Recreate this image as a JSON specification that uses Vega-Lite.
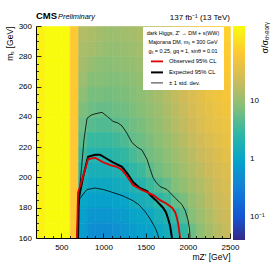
{
"$schema":"https://vega.github.io/schema/vega-lite/v6.json",
"width":194,"height":212,
"autosize":{"type":"none"},
"padding":{"left":36,"top":26,"right":44,"bottom":28},
"background":"white",
"config":{"font":"Liberation Sans","view":{"stroke":null},"axis":{"grid":false}},
"datasets":{
"cells":[
{"mz":250,"ms":295,"r":162},{"mz":250,"ms":285,"r":162},{"mz":250,"ms":275,"r":162},{"mz":250,"ms":265,"r":162},{"mz":250,"ms":255,"r":162},{"mz":250,"ms":245,"r":162},{"mz":250,"ms":235,"r":162},{"mz":250,"ms":225,"r":162},{"mz":250,"ms":215,"r":162},{"mz":250,"ms":205,"r":162},{"mz":250,"ms":195,"r":162},{"mz":250,"ms":185,"r":162},{"mz":250,"ms":175,"r":162},{"mz":250,"ms":165,"r":162},
{"mz":350,"ms":295,"r":200},{"mz":350,"ms":285,"r":200},{"mz":350,"ms":275,"r":200},{"mz":350,"ms":265,"r":200},{"mz":350,"ms":255,"r":200},{"mz":350,"ms":245,"r":200},{"mz":350,"ms":235,"r":200},{"mz":350,"ms":225,"r":200},{"mz":350,"ms":215,"r":200},{"mz":350,"ms":205,"r":200},{"mz":350,"ms":195,"r":200},{"mz":350,"ms":185,"r":200},{"mz":350,"ms":175,"r":200},{"mz":350,"ms":165,"r":200},
{"mz":450,"ms":295,"r":200},{"mz":450,"ms":285,"r":200},{"mz":450,"ms":275,"r":200},{"mz":450,"ms":265,"r":200},{"mz":450,"ms":255,"r":200},{"mz":450,"ms":245,"r":200},{"mz":450,"ms":235,"r":200},{"mz":450,"ms":225,"r":200},{"mz":450,"ms":215,"r":200},{"mz":450,"ms":205,"r":200},{"mz":450,"ms":195,"r":200},{"mz":450,"ms":185,"r":200},{"mz":450,"ms":175,"r":200},{"mz":450,"ms":165,"r":200},
{"mz":550,"ms":295,"r":200},{"mz":550,"ms":285,"r":200},{"mz":550,"ms":275,"r":200},{"mz":550,"ms":265,"r":200},{"mz":550,"ms":255,"r":200},{"mz":550,"ms":245,"r":200},{"mz":550,"ms":235,"r":200},{"mz":550,"ms":225,"r":200},{"mz":550,"ms":215,"r":200},{"mz":550,"ms":205,"r":200},{"mz":550,"ms":195,"r":200},{"mz":550,"ms":185,"r":200},{"mz":550,"ms":175,"r":200},{"mz":550,"ms":165,"r":200},
{"mz":650,"ms":295,"r":69},{"mz":650,"ms":285,"r":69},{"mz":650,"ms":275,"r":69},{"mz":650,"ms":265,"r":69},{"mz":650,"ms":255,"r":69},{"mz":650,"ms":245,"r":69},{"mz":650,"ms":235,"r":69},{"mz":650,"ms":225,"r":69},{"mz":650,"ms":215,"r":69},{"mz":650,"ms":205,"r":69},{"mz":650,"ms":195,"r":69},{"mz":650,"ms":185,"r":69},{"mz":650,"ms":175,"r":69},{"mz":650,"ms":165,"r":69},
{"mz":750,"ms":295,"r":15.5},{"mz":750,"ms":285,"r":14.0},{"mz":750,"ms":275,"r":12.6},{"mz":750,"ms":265,"r":11.3},{"mz":750,"ms":255,"r":9.12},{"mz":750,"ms":245,"r":7.37},{"mz":750,"ms":235,"r":5.96},{"mz":750,"ms":225,"r":4.82},{"mz":750,"ms":215,"r":3.50},{"mz":750,"ms":205,"r":2.54},{"mz":750,"ms":195,"r":1.66},{"mz":750,"ms":185,"r":1.08},{"mz":750,"ms":175,"r":0.877},{"mz":750,"ms":165,"r":0.788},
{"mz":850,"ms":295,"r":14.0},{"mz":850,"ms":285,"r":12.6},{"mz":850,"ms":275,"r":10.1},{"mz":850,"ms":265,"r":8.20},{"mz":850,"ms":255,"r":6.99},{"mz":850,"ms":245,"r":5.96},{"mz":850,"ms":235,"r":4.57},{"mz":850,"ms":225,"r":3.15},{"mz":850,"ms":215,"r":2.29},{"mz":850,"ms":205,"r":1.66},{"mz":850,"ms":195,"r":1.21},{"mz":850,"ms":185,"r":0.877},{"mz":850,"ms":175,"r":0.637},{"mz":850,"ms":165,"r":0.515},
{"mz":950,"ms":295,"r":12.6},{"mz":950,"ms":285,"r":11.3},{"mz":950,"ms":275,"r":9.12},{"mz":950,"ms":265,"r":8.20},{"mz":950,"ms":255,"r":6.99},{"mz":950,"ms":245,"r":5.65},{"mz":950,"ms":235,"r":4.33},{"mz":950,"ms":225,"r":3.15},{"mz":950,"ms":215,"r":2.29},{"mz":950,"ms":205,"r":1.66},{"mz":950,"ms":195,"r":1.21},{"mz":950,"ms":185,"r":0.877},{"mz":950,"ms":175,"r":0.637},{"mz":950,"ms":165,"r":0.463},
{"mz":1050,"ms":295,"r":11.3},{"mz":1050,"ms":285,"r":10.1},{"mz":1050,"ms":275,"r":8.65},{"mz":1050,"ms":265,"r":7.78},{"mz":1050,"ms":255,"r":6.63},{"mz":1050,"ms":245,"r":5.65},{"mz":1050,"ms":235,"r":4.33},{"mz":1050,"ms":225,"r":3.15},{"mz":1050,"ms":215,"r":2.29},{"mz":1050,"ms":205,"r":1.66},{"mz":1050,"ms":195,"r":1.21},{"mz":1050,"ms":185,"r":0.877},{"mz":1050,"ms":175,"r":0.637},{"mz":1050,"ms":165,"r":0.489},
{"mz":1150,"ms":295,"r":11.3},{"mz":1150,"ms":285,"r":10.1},{"mz":1150,"ms":275,"r":9.12},{"mz":1150,"ms":265,"r":7.78},{"mz":1150,"ms":255,"r":6.99},{"mz":1150,"ms":245,"r":5.96},{"mz":1150,"ms":235,"r":4.82},{"mz":1150,"ms":225,"r":3.50},{"mz":1150,"ms":215,"r":2.54},{"mz":1150,"ms":205,"r":1.85},{"mz":1150,"ms":195,"r":1.34},{"mz":1150,"ms":185,"r":0.975},{"mz":1150,"ms":175,"r":0.708},{"mz":1150,"ms":165,"r":0.543},
{"mz":1250,"ms":295,"r":11.9},{"mz":1250,"ms":285,"r":10.7},{"mz":1250,"ms":275,"r":9.62},{"mz":1250,"ms":265,"r":8.20},{"mz":1250,"ms":255,"r":7.37},{"mz":1250,"ms":245,"r":6.29},{"mz":1250,"ms":235,"r":5.36},{"mz":1250,"ms":225,"r":4.10},{"mz":1250,"ms":215,"r":2.98},{"mz":1250,"ms":205,"r":2.17},{"mz":1250,"ms":195,"r":1.49},{"mz":1250,"ms":185,"r":1.03},{"mz":1250,"ms":175,"r":0.788},{"mz":1250,"ms":165,"r":0.637},
{"mz":1350,"ms":295,"r":12.6},{"mz":1350,"ms":285,"r":11.3},{"mz":1350,"ms":275,"r":10.1},{"mz":1350,"ms":265,"r":9.12},{"mz":1350,"ms":255,"r":8.20},{"mz":1350,"ms":245,"r":7.37},{"mz":1350,"ms":235,"r":6.29},{"mz":1350,"ms":225,"r":5.36},{"mz":1350,"ms":215,"r":3.89},{"mz":1350,"ms":205,"r":2.83},{"mz":1350,"ms":195,"r":2.06},{"mz":1350,"ms":185,"r":1.42},{"mz":1350,"ms":175,"r":1.03},{"mz":1350,"ms":165,"r":0.788},
{"mz":1450,"ms":295,"r":14.0},{"mz":1450,"ms":285,"r":12.6},{"mz":1450,"ms":275,"r":11.3},{"mz":1450,"ms":265,"r":10.1},{"mz":1450,"ms":255,"r":9.12},{"mz":1450,"ms":245,"r":8.20},{"mz":1450,"ms":235,"r":6.99},{"mz":1450,"ms":225,"r":5.96},{"mz":1450,"ms":215,"r":4.82},{"mz":1450,"ms":205,"r":3.32},{"mz":1450,"ms":195,"r":2.29},{"mz":1450,"ms":185,"r":1.57},{"mz":1450,"ms":175,"r":1.08},{"mz":1450,"ms":165,"r":0.877},
{"mz":1550,"ms":295,"r":16.4},{"mz":1550,"ms":285,"r":14.7},{"mz":1550,"ms":275,"r":13.2},{"mz":1550,"ms":265,"r":11.9},{"mz":1550,"ms":255,"r":10.7},{"mz":1550,"ms":245,"r":9.62},{"mz":1550,"ms":235,"r":8.20},{"mz":1550,"ms":225,"r":7.37},{"mz":1550,"ms":215,"r":6.29},{"mz":1550,"ms":205,"r":4.82},{"mz":1550,"ms":195,"r":3.15},{"mz":1550,"ms":185,"r":1.85},{"mz":1550,"ms":175,"r":1.21},{"mz":1550,"ms":165,"r":0.975},
{"mz":1650,"ms":295,"r":19.2},{"mz":1650,"ms":285,"r":17.3},{"mz":1650,"ms":275,"r":15.5},{"mz":1650,"ms":265,"r":14.0},{"mz":1650,"ms":255,"r":12.6},{"mz":1650,"ms":245,"r":11.3},{"mz":1650,"ms":235,"r":10.1},{"mz":1650,"ms":225,"r":8.65},{"mz":1650,"ms":215,"r":7.37},{"mz":1650,"ms":205,"r":6.29},{"mz":1650,"ms":195,"r":4.33},{"mz":1650,"ms":185,"r":2.54},{"mz":1650,"ms":175,"r":1.66},{"mz":1650,"ms":165,"r":1.21},
{"mz":1750,"ms":295,"r":23.8},{"mz":1750,"ms":285,"r":21.4},{"mz":1750,"ms":275,"r":19.2},{"mz":1750,"ms":265,"r":17.3},{"mz":1750,"ms":255,"r":15.5},{"mz":1750,"ms":245,"r":14.0},{"mz":1750,"ms":235,"r":12.6},{"mz":1750,"ms":225,"r":10.7},{"mz":1750,"ms":215,"r":9.12},{"mz":1750,"ms":205,"r":7.78},{"mz":1750,"ms":195,"r":5.65},{"mz":1750,"ms":185,"r":3.32},{"mz":1750,"ms":175,"r":2.06},{"mz":1750,"ms":165,"r":1.49},
{"mz":1850,"ms":295,"r":29.4},{"mz":1850,"ms":285,"r":26.5},{"mz":1850,"ms":275,"r":23.8},{"mz":1850,"ms":265,"r":21.4},{"mz":1850,"ms":255,"r":19.2},{"mz":1850,"ms":245,"r":17.3},{"mz":1850,"ms":235,"r":15.5},{"mz":1850,"ms":225,"r":13.2},{"mz":1850,"ms":215,"r":11.3},{"mz":1850,"ms":205,"r":9.62},{"mz":1850,"ms":195,"r":7.78},{"mz":1850,"ms":185,"r":5.36},{"mz":1850,"ms":175,"r":3.15},{"mz":1850,"ms":165,"r":2.06},
{"mz":1950,"ms":295,"r":36.4},{"mz":1950,"ms":285,"r":32.7},{"mz":1950,"ms":275,"r":29.4},{"mz":1950,"ms":265,"r":26.5},{"mz":1950,"ms":255,"r":23.8},{"mz":1950,"ms":245,"r":21.4},{"mz":1950,"ms":235,"r":19.2},{"mz":1950,"ms":225,"r":16.4},{"mz":1950,"ms":215,"r":14.0},{"mz":1950,"ms":205,"r":11.9},{"mz":1950,"ms":195,"r":9.62},{"mz":1950,"ms":185,"r":6.99},{"mz":1950,"ms":175,"r":4.57},{"mz":1950,"ms":165,"r":2.83},
{"mz":2050,"ms":295,"r":45.1},{"mz":2050,"ms":285,"r":40.5},{"mz":2050,"ms":275,"r":36.4},{"mz":2050,"ms":265,"r":32.7},{"mz":2050,"ms":255,"r":29.4},{"mz":2050,"ms":245,"r":26.5},{"mz":2050,"ms":235,"r":23.8},{"mz":2050,"ms":225,"r":20.3},{"mz":2050,"ms":215,"r":17.3},{"mz":2050,"ms":205,"r":14.7},{"mz":2050,"ms":195,"r":12.6},{"mz":2050,"ms":185,"r":10.1},{"mz":2050,"ms":175,"r":8.20},{"mz":2050,"ms":165,"r":5.96},
{"mz":2150,"ms":295,"r":55.7},{"mz":2150,"ms":285,"r":50.1},{"mz":2150,"ms":275,"r":45.1},{"mz":2150,"ms":265,"r":40.5},{"mz":2150,"ms":255,"r":36.4},{"mz":2150,"ms":245,"r":32.7},{"mz":2150,"ms":235,"r":29.4},{"mz":2150,"ms":225,"r":25.1},{"mz":2150,"ms":215,"r":21.4},{"mz":2150,"ms":205,"r":18.2},{"mz":2150,"ms":195,"r":15.5},{"mz":2150,"ms":185,"r":13.2},{"mz":2150,"ms":175,"r":11.3},{"mz":2150,"ms":165,"r":9.12},
{"mz":2250,"ms":295,"r":65.4},{"mz":2250,"ms":285,"r":58.8},{"mz":2250,"ms":275,"r":52.8},{"mz":2250,"ms":265,"r":47.5},{"mz":2250,"ms":255,"r":42.7},{"mz":2250,"ms":245,"r":38.4},{"mz":2250,"ms":235,"r":34.5},{"mz":2250,"ms":225,"r":29.4},{"mz":2250,"ms":215,"r":25.1},{"mz":2250,"ms":205,"r":22.5},{"mz":2250,"ms":195,"r":19.2},{"mz":2250,"ms":185,"r":17.3},{"mz":2250,"ms":175,"r":14.7},{"mz":2250,"ms":165,"r":12.6},
{"mz":2350,"ms":295,"r":72.7},{"mz":2350,"ms":285,"r":65.4},{"mz":2350,"ms":275,"r":62.0},{"mz":2350,"ms":265,"r":55.7},{"mz":2350,"ms":255,"r":50.1},{"mz":2350,"ms":245,"r":45.1},{"mz":2350,"ms":235,"r":40.5},{"mz":2350,"ms":225,"r":34.5},{"mz":2350,"ms":215,"r":31.0},{"mz":2350,"ms":205,"r":26.5},{"mz":2350,"ms":195,"r":23.8},{"mz":2350,"ms":185,"r":21.4},{"mz":2350,"ms":175,"r":19.2},{"mz":2350,"ms":165,"r":16.4},
{"mz":2450,"ms":295,"r":80.9},{"mz":2450,"ms":285,"r":72.7},{"mz":2450,"ms":275,"r":69.0},{"mz":2450,"ms":265,"r":62.0},{"mz":2450,"ms":255,"r":55.7},{"mz":2450,"ms":245,"r":50.1},{"mz":2450,"ms":235,"r":45.1},{"mz":2450,"ms":225,"r":40.5},{"mz":2450,"ms":215,"r":36.4},{"mz":2450,"ms":205,"r":31.0},{"mz":2450,"ms":195,"r":27.9},{"mz":2450,"ms":185,"r":25.1},{"mz":2450,"ms":175,"r":22.5},{"mz":2450,"ms":165,"r":20.3}
],
"curves":[
{"curve":"m1","kind":"± 1 std. dev.","i":0,"mz":686,"ms":160},{"curve":"m1","kind":"± 1 std. dev.","i":1,"mz":698,"ms":181},{"curve":"m1","kind":"± 1 std. dev.","i":2,"mz":720,"ms":186},{"curve":"m1","kind":"± 1 std. dev.","i":3,"mz":745,"ms":188},{"curve":"m1","kind":"± 1 std. dev.","i":4,"mz":805,"ms":192},{"curve":"m1","kind":"± 1 std. dev.","i":5,"mz":900,"ms":193},{"curve":"m1","kind":"± 1 std. dev.","i":6,"mz":1000,"ms":192},{"curve":"m1","kind":"± 1 std. dev.","i":7,"mz":1113,"ms":190},{"curve":"m1","kind":"± 1 std. dev.","i":8,"mz":1220,"ms":188},{"curve":"m1","kind":"± 1 std. dev.","i":9,"mz":1338,"ms":185},{"curve":"m1","kind":"± 1 std. dev.","i":10,"mz":1420,"ms":182},{"curve":"m1","kind":"± 1 std. dev.","i":11,"mz":1500,"ms":177},{"curve":"m1","kind":"± 1 std. dev.","i":12,"mz":1560,"ms":172},{"curve":"m1","kind":"± 1 std. dev.","i":13,"mz":1610,"ms":167},{"curve":"m1","kind":"± 1 std. dev.","i":14,"mz":1640,"ms":163},{"curve":"m1","kind":"± 1 std. dev.","i":15,"mz":1655,"ms":160},
{"curve":"p1","kind":"± 1 std. dev.","i":0,"mz":686,"ms":160},{"curve":"p1","kind":"± 1 std. dev.","i":1,"mz":700,"ms":180},{"curve":"p1","kind":"± 1 std. dev.","i":2,"mz":722,"ms":195},{"curve":"p1","kind":"± 1 std. dev.","i":3,"mz":769,"ms":225},{"curve":"p1","kind":"± 1 std. dev.","i":4,"mz":805,"ms":239},{"curve":"p1","kind":"± 1 std. dev.","i":5,"mz":850,"ms":241},{"curve":"p1","kind":"± 1 std. dev.","i":6,"mz":900,"ms":242},{"curve":"p1","kind":"± 1 std. dev.","i":7,"mz":983,"ms":243},{"curve":"p1","kind":"± 1 std. dev.","i":8,"mz":1050,"ms":240},{"curve":"p1","kind":"± 1 std. dev.","i":9,"mz":1113,"ms":237},{"curve":"p1","kind":"± 1 std. dev.","i":10,"mz":1170,"ms":236},{"curve":"p1","kind":"± 1 std. dev.","i":11,"mz":1220,"ms":234},{"curve":"p1","kind":"± 1 std. dev.","i":12,"mz":1280,"ms":229},{"curve":"p1","kind":"± 1 std. dev.","i":13,"mz":1338,"ms":223},{"curve":"p1","kind":"± 1 std. dev.","i":14,"mz":1400,"ms":220},{"curve":"p1","kind":"± 1 std. dev.","i":15,"mz":1457,"ms":218},{"curve":"p1","kind":"± 1 std. dev.","i":16,"mz":1516,"ms":212},{"curve":"p1","kind":"± 1 std. dev.","i":17,"mz":1550,"ms":206},{"curve":"p1","kind":"± 1 std. dev.","i":18,"mz":1587,"ms":200},{"curve":"p1","kind":"± 1 std. dev.","i":19,"mz":1620,"ms":197},{"curve":"p1","kind":"± 1 std. dev.","i":20,"mz":1670,"ms":194},{"curve":"p1","kind":"± 1 std. dev.","i":21,"mz":1753,"ms":192},{"curve":"p1","kind":"± 1 std. dev.","i":22,"mz":1840,"ms":187},{"curve":"p1","kind":"± 1 std. dev.","i":23,"mz":1931,"ms":182},{"curve":"p1","kind":"± 1 std. dev.","i":24,"mz":1970,"ms":178},{"curve":"p1","kind":"± 1 std. dev.","i":25,"mz":2002,"ms":172},{"curve":"p1","kind":"± 1 std. dev.","i":26,"mz":2020,"ms":166},{"curve":"p1","kind":"± 1 std. dev.","i":27,"mz":2026,"ms":160},
{"curve":"exp","kind":"Expected 95% CL","i":0,"mz":698,"ms":160},{"curve":"exp","kind":"Expected 95% CL","i":1,"mz":705,"ms":180},{"curve":"exp","kind":"Expected 95% CL","i":2,"mz":710,"ms":187},{"curve":"exp","kind":"Expected 95% CL","i":3,"mz":757,"ms":200},{"curve":"exp","kind":"Expected 95% CL","i":4,"mz":817,"ms":213.7},{"curve":"exp","kind":"Expected 95% CL","i":5,"mz":900,"ms":215},{"curve":"exp","kind":"Expected 95% CL","i":6,"mz":959,"ms":215},{"curve":"exp","kind":"Expected 95% CL","i":7,"mz":1050,"ms":212},{"curve":"exp","kind":"Expected 95% CL","i":8,"mz":1113,"ms":210},{"curve":"exp","kind":"Expected 95% CL","i":9,"mz":1220,"ms":207},{"curve":"exp","kind":"Expected 95% CL","i":10,"mz":1290,"ms":202},{"curve":"exp","kind":"Expected 95% CL","i":11,"mz":1350,"ms":197},{"curve":"exp","kind":"Expected 95% CL","i":12,"mz":1430,"ms":193},{"curve":"exp","kind":"Expected 95% CL","i":13,"mz":1516,"ms":191},{"curve":"exp","kind":"Expected 95% CL","i":14,"mz":1560,"ms":188},{"curve":"exp","kind":"Expected 95% CL","i":15,"mz":1620,"ms":185},{"curve":"exp","kind":"Expected 95% CL","i":16,"mz":1706,"ms":180},{"curve":"exp","kind":"Expected 95% CL","i":17,"mz":1740,"ms":177},{"curve":"exp","kind":"Expected 95% CL","i":18,"mz":1765,"ms":173},{"curve":"exp","kind":"Expected 95% CL","i":19,"mz":1790,"ms":168},{"curve":"exp","kind":"Expected 95% CL","i":20,"mz":1812,"ms":160},
{"curve":"obs","kind":"Observed 95% CL","i":0,"mz":686,"ms":160},{"curve":"obs","kind":"Observed 95% CL","i":1,"mz":698,"ms":190},{"curve":"obs","kind":"Observed 95% CL","i":2,"mz":745,"ms":198},{"curve":"obs","kind":"Observed 95% CL","i":3,"mz":817,"ms":212},{"curve":"obs","kind":"Observed 95% CL","i":4,"mz":900,"ms":213},{"curve":"obs","kind":"Observed 95% CL","i":5,"mz":995,"ms":210},{"curve":"obs","kind":"Observed 95% CL","i":6,"mz":1090,"ms":208},{"curve":"obs","kind":"Observed 95% CL","i":7,"mz":1160,"ms":207},{"curve":"obs","kind":"Observed 95% CL","i":8,"mz":1220,"ms":205},{"curve":"obs","kind":"Observed 95% CL","i":9,"mz":1290,"ms":200},{"curve":"obs","kind":"Observed 95% CL","i":10,"mz":1350,"ms":195},{"curve":"obs","kind":"Observed 95% CL","i":11,"mz":1440,"ms":192},{"curve":"obs","kind":"Observed 95% CL","i":12,"mz":1528,"ms":190},{"curve":"obs","kind":"Observed 95% CL","i":13,"mz":1600,"ms":188},{"curve":"obs","kind":"Observed 95% CL","i":14,"mz":1670,"ms":185},{"curve":"obs","kind":"Observed 95% CL","i":15,"mz":1740,"ms":183},{"curve":"obs","kind":"Observed 95% CL","i":16,"mz":1813,"ms":180},{"curve":"obs","kind":"Observed 95% CL","i":17,"mz":1850,"ms":177},{"curve":"obs","kind":"Observed 95% CL","i":18,"mz":1872,"ms":173},{"curve":"obs","kind":"Observed 95% CL","i":19,"mz":1890,"ms":168},{"curve":"obs","kind":"Observed 95% CL","i":20,"mz":1908,"ms":160}
]
},
"layer":[
{
"data":{"name":"cells"},
"mark":{"type":"rect","binSpacing":0,"strokeWidth":0.6},
"encoding":{
"x":{"field":"mz","type":"quantitative","bin":{"step":100,"extent":[200,2500]},"scale":{"domain":[200,2500],"nice":false,"zero":false},
 "axis":{"orient":"bottom","values":[500,1000,1500,2000,2500],"zindex":1,"tickSize":-5,"tickColor":"black","tickWidth":0.8,"domainColor":"black","domainWidth":1,"labelFontSize":8,"labelColor":"black","labelPadding":10,"labelFlush":false,"labelOverlap":false,"format":"d","title":"mZ′ [GeV]","titleFontSize":8.5,"titleFontWeight":"normal","titleColor":"black","titleX":194,"titleY":21,"titleAlign":"right","titleBaseline":"alphabetic","titleAnchor":"end"}},
"y":{"field":"ms","type":"quantitative","bin":{"step":10,"extent":[160,300]},"scale":{"domain":[160,300],"nice":false,"zero":false},
 "axis":{"orient":"left","values":[160,180,200,220,240,260,280,300],"zindex":1,"tickSize":-5,"tickColor":"black","tickWidth":0.8,"domainColor":"black","domainWidth":1,"labelFontSize":8,"labelColor":"black","labelPadding":9.5,"labelFlush":false,"labelOverlap":false,"format":"d","title":"mₛ [GeV]","titleFontSize":8.5,"titleFontWeight":"normal","titleColor":"black","titleX":-22,"titleY":0,"titleAngle":270,"titleAlign":"right","titleBaseline":"bottom","titleAnchor":"end"}},
"fill":{"field":"r","type":"quantitative","scale":{"type":"log","domain":[0.04,0.116,0.336,0.97,2.8,8.2,23.7,69,200],"range":["#352A87","#0F5CDD","#1481D6","#06A4CA","#2EB7A4","#87BF77","#D1BB59","#FEC832","#F9FB0E"],"interpolate":"rgb","clamp":true},
 "legend":{"orient":"none","legendX":197,"legendY":0,"direction":"vertical","gradientLength":214,"gradientThickness":12,"gradientStrokeWidth":0,"title":null,"values":[0.1,1,10],"labelExpr":"datum.value < 0.5 ? '10⁻¹' : (datum.value < 5 ? '1' : '10')","labelFontSize":8,"labelColor":"black","labelOffset":5,"labelOverlap":false,"padding":0}},
"stroke":{"field":"r","type":"quantitative","scale":{"type":"log","domain":[0.04,0.116,0.336,0.97,2.8,8.2,23.7,69,200],"range":["#352A87","#0F5CDD","#1481D6","#06A4CA","#2EB7A4","#87BF77","#D1BB59","#FEC832","#F9FB0E"],"interpolate":"rgb","clamp":true},"legend":null}
}
},
{
"data":{"name":"curves"},
"mark":{"type":"line"},
"encoding":{
"x":{"field":"mz","type":"quantitative","scale":{"domain":[200,2500],"nice":false,"zero":false},
 "axis":{"orient":"bottom","values":[300,400,600,700,800,900,1100,1200,1300,1400,1600,1700,1800,1900,2100,2200,2300,2400],"zindex":1,"labels":false,"domain":false,"tickSize":-2.5,"tickColor":"black","tickWidth":0.8,"title":null}},
"y":{"field":"ms","type":"quantitative","scale":{"domain":[160,300],"nice":false,"zero":false},
 "axis":{"orient":"left","values":[165,170,175,185,190,195,205,210,215,225,230,235,245,250,255,265,270,275,285,290,295],"zindex":1,"labels":false,"domain":false,"tickSize":-2.5,"tickColor":"black","tickWidth":0.8,"title":null}},
"detail":{"field":"curve"},
"order":{"field":"i","type":"quantitative"},
"stroke":{"field":"kind","type":"nominal","scale":{"domain":["Observed 95% CL","Expected 95% CL","± 1 std. dev."],"range":["#e00000","#000000","#000000"]},
 "legend":{"orient":"none","legendX":107,"legendY":1,"title":["dark Higgs, Z′ → DM + s(WW)","Majorana DM, mᵪ = 300 GeV","gᵪ = 0.25, gq = 1, sinθ = 0.01"],"titleFontSize":5.4,"titleFontWeight":"normal","titleColor":"black","titleLineHeight":9,"titleAnchor":"middle","titleAlign":"center","titlePadding":0,"titleLimit":300,"fillColor":"white","padding":4,"labelFontSize":5.8,"labelColor":"black","labelOffset":5,"labelLimit":200,"symbolType":"stroke","symbolSize":144,"rowPadding":-2}},
"strokeWidth":{"field":"kind","type":"nominal","scale":{"type":"ordinal","domain":["Observed 95% CL","Expected 95% CL","± 1 std. dev."],"range":[1.8,2,0.8]},
 "legend":{"orient":"none","legendX":107,"legendY":1,"title":["dark Higgs, Z′ → DM + s(WW)","Majorana DM, mᵪ = 300 GeV","gᵪ = 0.25, gq = 1, sinθ = 0.01"],"titleFontSize":5.4,"titleFontWeight":"normal","titleColor":"black","titleLineHeight":9,"titleAnchor":"middle","titleAlign":"center","titlePadding":0,"titleLimit":300,"fillColor":"white","padding":4,"labelFontSize":5.8,"labelColor":"black","labelOffset":5,"labelLimit":200,"symbolType":"stroke","symbolSize":144,"rowPadding":-2}}
}
},
{
"data":{"values":[{"t":"CMS","mz":200,"ms":304.6}]},
"mark":{"type":"text","align":"left","baseline":"alphabetic","fontSize":9.5,"fontWeight":"bold","color":"black"},
"encoding":{"x":{"field":"mz","type":"quantitative","axis":null},"y":{"field":"ms","type":"quantitative","axis":null},"text":{"field":"t"}}
},
{
"data":{"values":[{"t":"Preliminary","mz":461,"ms":304.6}]},
"mark":{"type":"text","align":"left","baseline":"alphabetic","fontSize":7.4,"fontStyle":"italic","color":"black"},
"encoding":{"x":{"field":"mz","type":"quantitative","axis":null},"y":{"field":"ms","type":"quantitative","axis":null},"text":{"field":"t"}}
},
{
"data":{"values":[{"t":"137 fb⁻¹ (13 TeV)","mz":2500,"ms":304.0}]},
"mark":{"type":"text","align":"right","baseline":"alphabetic","fontSize":8,"color":"black"},
"encoding":{"x":{"field":"mz","type":"quantitative","axis":null},"y":{"field":"ms","type":"quantitative","axis":null},"text":{"field":"t"}}
},
{
"data":{"values":[{"t":"σ/σₜₕₑₒᵣᵧ","mz":2915,"ms":302.6}]},
"mark":{"type":"text","align":"right","baseline":"middle","angle":270,"fontSize":9,"color":"black"},
"encoding":{"x":{"field":"mz","type":"quantitative","axis":null},"y":{"field":"ms","type":"quantitative","axis":null},"text":{"field":"t"}}
}
],
"resolve":{"scale":{"stroke":"independent","strokeWidth":"independent"},"axis":{"x":"independent","y":"independent"}}
}
